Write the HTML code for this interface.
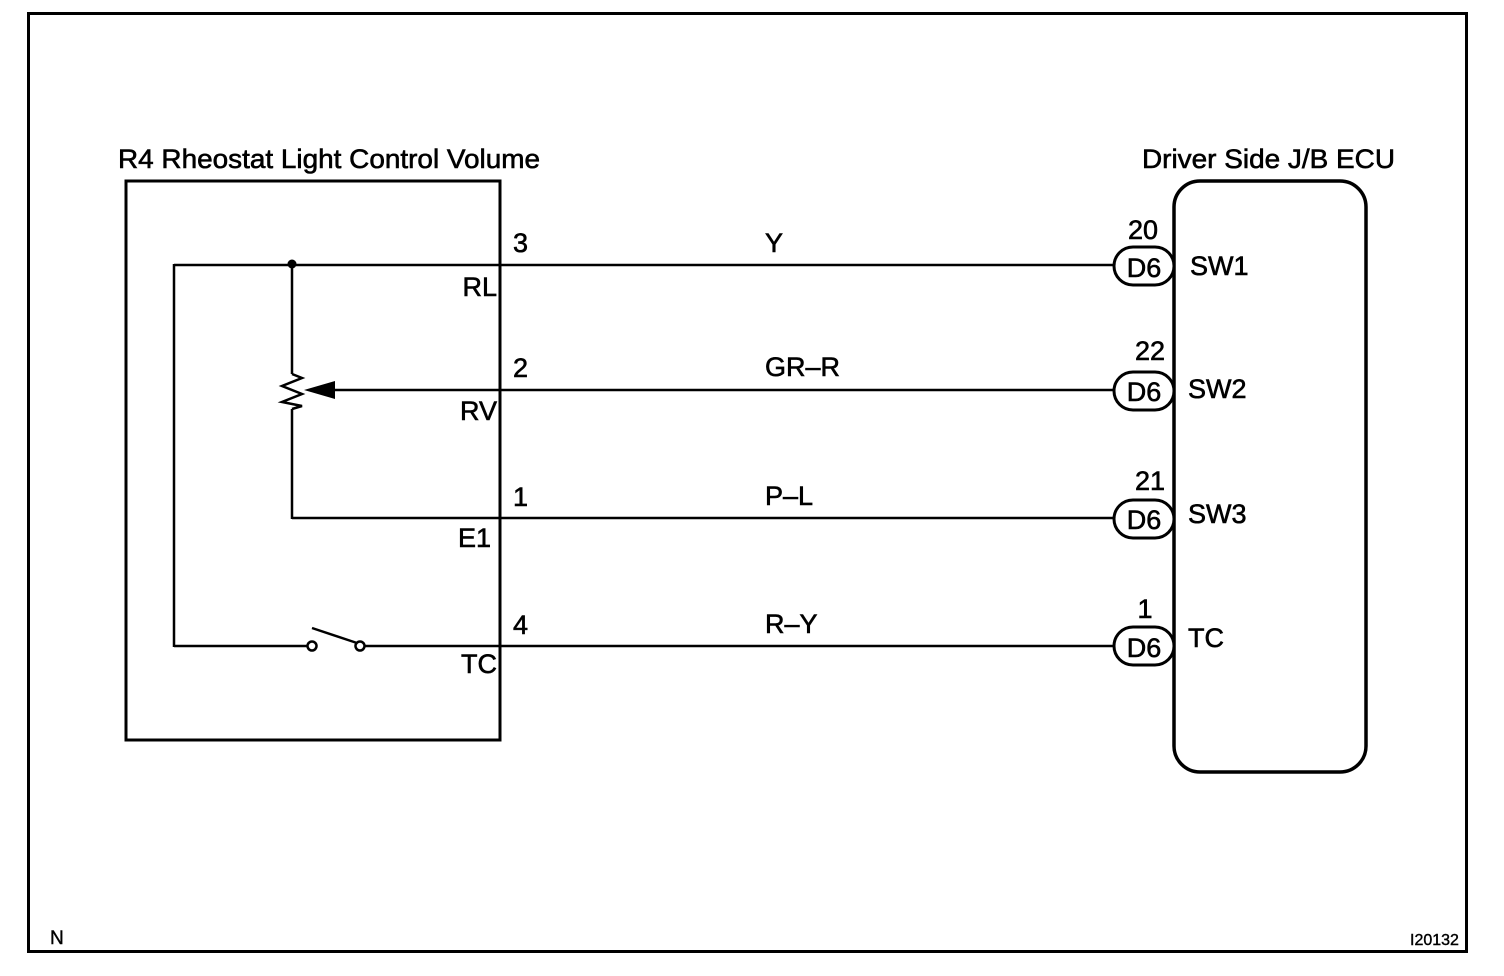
<!DOCTYPE html>
<html><head><style>html,body{margin:0;padding:0;background:#fff}svg{display:block}</style></head><body>
<svg width="1504" height="976" viewBox="0 0 1504 976" xmlns="http://www.w3.org/2000/svg" font-family="Liberation Sans, Arial, sans-serif" fill="#000">
<rect x="28.5" y="13.5" width="1438" height="938" fill="none" stroke="#000" stroke-width="3"/>
<g fill="none" stroke="#000">
<rect x="126" y="181" width="374" height="559" stroke-width="3"/>
<rect x="1174" y="181" width="192" height="591" rx="26" stroke-width="3.5"/>
<g stroke-width="2.5">
<line x1="174" y1="265" x2="1114" y2="265"/>
<line x1="335" y1="390" x2="1114" y2="390"/>
<line x1="292" y1="518" x2="1114" y2="518"/>
<line x1="174" y1="646" x2="308" y2="646"/>
<line x1="364" y1="646" x2="1114" y2="646"/>
<line x1="174" y1="264" x2="174" y2="647"/>
<line x1="292" y1="265" x2="292" y2="374"/>
<line x1="292" y1="409" x2="292" y2="519"/>
<polyline points="292,374 302,378 282,386 302,394 282,402 302,406 292,409"/>
<line x1="312" y1="628" x2="357" y2="643"/>
</g>
<circle cx="312" cy="646" r="4.5" stroke-width="2.5" fill="#fff"/>
<circle cx="360" cy="646" r="4.5" stroke-width="2.5" fill="#fff"/>
<g stroke-width="3" fill="#fff">
<rect x="1114" y="247" width="60" height="38" rx="19"/>
<rect x="1114" y="372" width="60" height="38" rx="19"/>
<rect x="1114" y="500" width="60" height="38" rx="19"/>
<rect x="1114" y="627" width="60" height="38" rx="19"/>
</g>
</g>
<circle cx="292" cy="264" r="4.5"/>
<polygon points="304,390 335,381 335,399"/>
<g font-size="27" stroke="#000" stroke-width="0.6">
<text x="118" y="168" textLength="422" lengthAdjust="spacingAndGlyphs">R4 Rheostat Light Control Volume</text>
<text x="1142" y="168" textLength="253" lengthAdjust="spacingAndGlyphs">Driver Side J/B ECU</text>
<text x="513" y="252">3</text><text x="513" y="377">2</text><text x="513" y="506">1</text><text x="513" y="634">4</text>
<g text-anchor="end"><text x="497" y="296">RL</text><text x="497" y="420">RV</text><text x="491" y="547">E1</text><text x="497" y="673">TC</text></g>
<text x="765" y="252">Y</text><text x="765" y="376">GR–R</text><text x="765" y="505">P–L</text><text x="765" y="633">R–Y</text>
<g text-anchor="middle"><text x="1144" y="277">D6</text><text x="1144" y="401">D6</text><text x="1144" y="529">D6</text><text x="1144" y="657">D6</text>
<text x="1143" y="239">20</text><text x="1150" y="360">22</text><text x="1150" y="490">21</text><text x="1145" y="618">1</text></g>
<text x="1190" y="275">SW1</text><text x="1188" y="398">SW2</text><text x="1188" y="523">SW3</text><text x="1188" y="647">TC</text>
</g>
<text x="50" y="944" font-size="19" stroke="#000" stroke-width="0.4">N</text>
<text x="1410" y="945" font-size="16" stroke="#000" stroke-width="0.4">I20132</text>
</svg>
</body></html>
